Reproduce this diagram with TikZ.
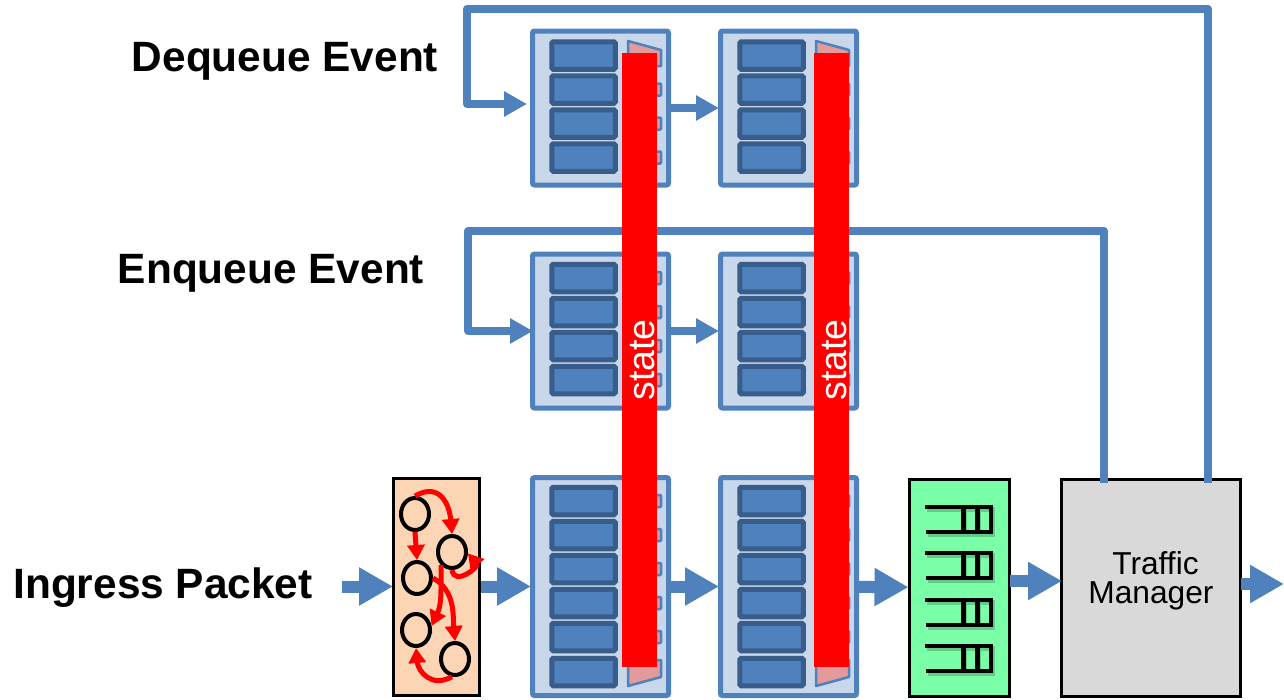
\documentclass[tikz,border=0pt]{standalone}
\usepackage{fontspec}
\setmainfont{Liberation Sans}
\definecolor{pipeblue}{HTML}{4F81BD}
\definecolor{slotdark}{HTML}{385D8A}
\definecolor{stagefill}{HTML}{C9D7EA}
\definecolor{tabpink}{HTML}{E39A9A}
\definecolor{parserfill}{HTML}{FCD5B5}
\definecolor{queuegreen}{HTML}{7AFFA8}
\definecolor{tmgray}{HTML}{D9D9D9}
\usetikzlibrary{arrows.meta, shapes.geometric, shadows}

\begin{document}
\begin{tikzpicture}[
				x=1pt, y=-1pt,
				stage/.style={draw=pipeblue, fill=stagefill, line width=5pt, rounded corners=2pt, minimum width=136pt},
				slot/.style={draw=slotdark, fill=pipeblue, line width=5pt, rounded corners=1.5pt, minimum width=63.5pt, minimum height=27.5pt, inner sep=0pt},
				tab/.style={draw=pipeblue, fill=tabpink, line width=2.5pt, rounded corners=1pt, minimum width=32pt, minimum height=12pt, inner sep=0pt},
				blackbox/.style={draw=black, line width=3pt, minimum height=217pt, inner sep=0pt, drop shadow={shadow xshift=1.5pt, shadow yshift=-1.5pt, opacity=.25}},
				vertex/.style={ellipse, draw=black, line width=4pt, minimum width=28pt, minimum height=32pt, inner sep=0pt},
				redarc/.style={-{Triangle[length=15pt,width=17pt]}, line width=5pt, color=red},
				bigarrow/.style={-{Triangle[length=34pt,width=36pt]}, line width=12pt, color=pipeblue, shorten >=-1pt},
				smallarrow/.style={-{Triangle[length=23pt,width=24pt]}, line width=8pt, color=pipeblue, line join=round, shorten >=-1pt},
				qline/.style={line width=4.5pt, color=black},
				redbar/.style={fill=red, rotate=90, minimum width=614pt, minimum height=35pt, inner sep=0pt, text=white, text height=31pt, font=\fontsize{37.5}{37.5}\selectfont},
				evt/.style={font=\fontsize{42.4}{42.4}\selectfont\bfseries}
			]
			\useasboundingbox (0,0) rectangle (1284,699);

			\node[evt] (deq) at (285,61) {Dequeue Event};
			\node[evt] (enq) at (271,273) {Enqueue Event};
			\node[evt] (ing) at (163,588) {Ingress Packet};

			\foreach \col/\cx in {a/600.5, b/788.5} {
				\node[stage, minimum height=154pt] (deq\col) at (\cx,108) {};
				\node[stage, minimum height=154pt] (enq\col) at (\cx,331) {};
				\node[stage, minimum height=218pt] (ing\col) at (\cx,586.5) {};
			}

			\foreach \col/\cx/\tx in {a/583.5/645, b/771.5/833} {
				\foreach \cy [count=\n] in {55.5, 89.5, 123.5, 157.5} {
					\ifnum\n>1
						\node[tab] (deqtab\col\n) at (\tx,\cy) {};
					\fi
					\node[slot] (deqslot\col\n) at (\cx,\cy) {};
				}
				\foreach \cy [count=\n] in {278, 312, 346, 380} {
					\node[tab] (enqtab\col\n) at (\tx,\cy) {};
					\node[slot] (enqslot\col\n) at (\cx,\cy) {};
				}
				\foreach \cy [count=\n] in {501, 535, 569, 603, 637, 672} {
					\ifnum\n<6
						\node[tab] (ingtab\col\n) at (\tx,\cy) {};
					\fi
					\node[slot] (ingslot\col\n) at (\cx,\cy) {};
				}
			}

			\foreach \dx in {0, 188} {
				\draw[draw=pipeblue, fill=tabpink, line width=2.5pt, line join=round] (628+\dx,41) -- (661+\dx,50) -- (661+\dx,66) -- (628+\dx,66) -- cycle;
				\draw[draw=pipeblue, fill=tabpink, line width=2.5pt, line join=round] (628+\dx,686) -- (661+\dx,677) -- (661+\dx,660) -- (628+\dx,660) -- cycle;
			}

			\node[blackbox, fill=parserfill, minimum width=86pt] (parser) at (436.5,586.5) {};
			\node[vertex] (va) at (415,514) {};
			\node[vertex] (vb) at (452,552) {};
			\node[vertex] (vc) at (417,578) {};
			\node[vertex] (vd) at (416,630) {};
			\node[vertex] (ve) at (455,659) {};

			\draw[redarc] (va.north) to[out=30, in=95, looseness=1.4] (vb.north);
			\draw[redarc] (va.south) -- (vc.north);
			\draw[redarc] (vb.-130) to[out=-90, in=65] (vd.15);
			\draw[redarc] (vc.east) to[out=-30, in=95] (ve.north);
			\draw[redarc] (vb.-90) to[out=-80, in=-50, looseness=1.9] (vb.-5);
			\draw[redarc] (ve.-100) to[out=-150, in=-85, looseness=1.3] (vd.south);

			\node[blackbox, fill=queuegreen, minimum width=100pt] (queues) at (959,587.5) {};
			\foreach \qy in {507, 553, 600, 646} {
				\draw[qline, opacity=.2, xshift=1.5pt, yshift=-2.5pt] (925,\qy) -- (991,\qy) -- (991,\qy+25) -- (926,\qy+25) (963.5,\qy) -- (963.5,\qy+25) (977.5,\qy) -- (977.5,\qy+25);
				\draw[qline] (925,\qy) -- (991,\qy) -- (991,\qy+25) -- (926,\qy+25) (963.5,\qy) -- (963.5,\qy+25) (977.5,\qy) -- (977.5,\qy+25);
			}

			\node[blackbox, fill=tmgray, minimum width=179pt] (tm) at (1150.5,587.5) {};
			\node[align=center, font=\fontsize{31.7}{29}\selectfont] (tmlbl) at (1151,581) {\hspace*{9pt}Traffic\\Manager};

			\coordinate (ingin) at (342,586.5);
			\coordinate (deqin) at (526,104);
			\coordinate (enqin) at (532,331);
			\coordinate (tmout) at (1283,584);
			\coordinate (tmdeq) at (1208,483);
			\coordinate (tmenq) at (1104,483);
			\coordinate (tmleft) at (1010,581);
			\coordinate (tmin) at (1061,581);
			\coordinate (tmright) at (1241,584);

			\draw[smallarrow] (tmdeq) -- (1208,9) -- (467,9) -- (467,104) -- (deqin);
			\draw[smallarrow] (tmenq) -- (1104,231) -- (468,231) -- (468,331) -- (enqin);
			\draw[smallarrow] (deqa) -- (deqb);
			\draw[smallarrow] (enqa) -- (enqb);

			\draw[bigarrow] (ingin) -- (parser);
			\draw[bigarrow] (parser) -- (inga);
			\draw[bigarrow] (inga) -- (ingb);
			\draw[bigarrow] (ingb) -- (queues);
			\draw[bigarrow] (tmleft) -- (tmin);
			\draw[bigarrow] (tmright) -- (tmout);

			\node[redbar] (bara) at (639.5,360) {state};
			\node[redbar] (barb) at (831.5,360) {state};
		\end{tikzpicture}
\end{document}
